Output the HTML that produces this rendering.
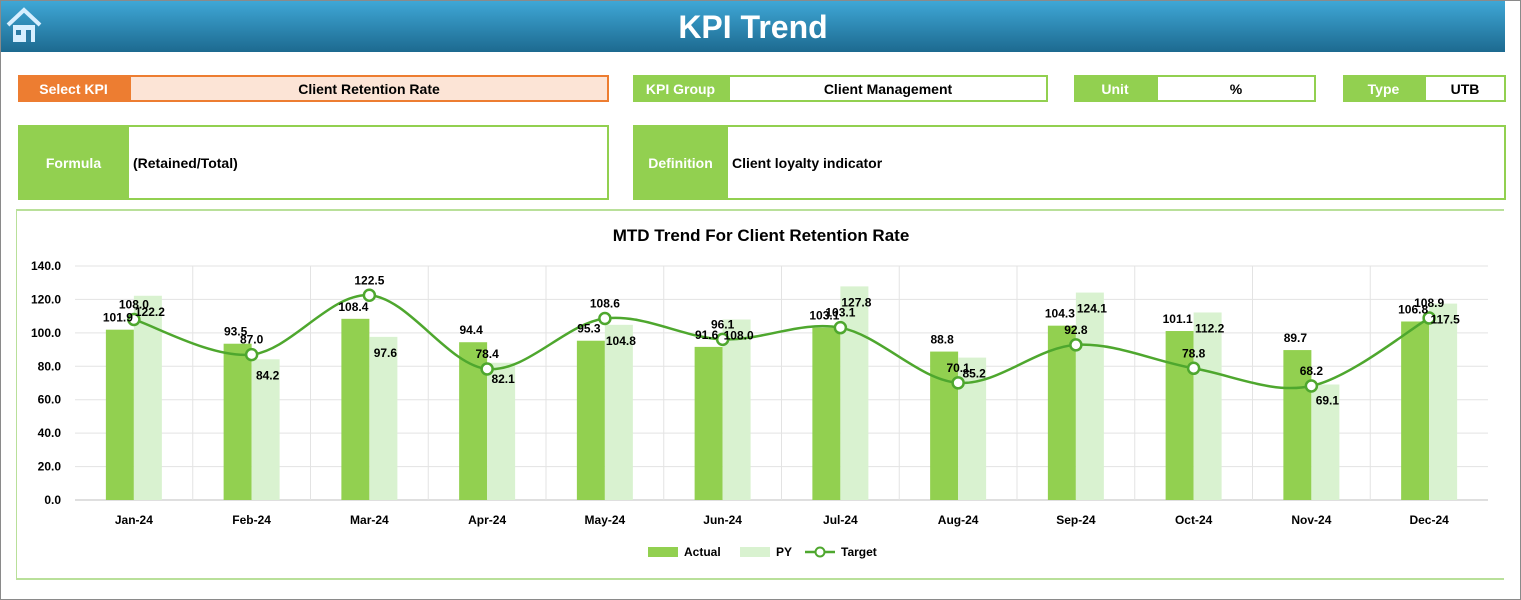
<!DOCTYPE html>
<html><head><meta charset="utf-8"><style>
body{margin:0;width:1521px;height:600px;overflow:hidden;background:#fff;font-family:"Liberation Sans",sans-serif;position:relative}
.frame{position:absolute;left:0;top:0;width:1519px;height:598px;border:1px solid #8a8a8a}
.hdr{position:absolute;left:1px;top:1px;width:1504px;height:51px;background:linear-gradient(#3fa7d6,#1d6a90);color:#fff;font-weight:bold;font-size:32px;text-align:center;line-height:52px}
.b{position:absolute;box-sizing:border-box;font-weight:bold;font-size:14px;display:flex;align-items:center}
.lab{background:#92D050;color:#fff;justify-content:center}
.val{border:2px solid #92D050;background:#fff;color:#000}
</style></head><body>
<div class="frame"></div>
<div class="hdr">KPI Trend</div>
<svg style="position:absolute;left:4px;top:5px" width="40" height="40" viewBox="0 0 40 40"><path d="M4 20 L20 5 L36 20" fill="none" stroke="#d7efff" stroke-width="4"/><rect x="9" y="20" width="22" height="17" fill="#d7efff"/><rect x="12" y="25" width="5" height="5" fill="#2a7aa3"/><rect x="22" y="25" width="5" height="12" fill="#2a7aa3"/></svg>

<div class="b lab" style="left:18px;top:75px;width:111px;height:27px;background:#ED7D31">Select KPI</div>
<div class="b val" style="left:129px;top:75px;width:480px;height:27px;background:#FCE4D6;border-color:#ED7D31;justify-content:center">Client Retention Rate</div>
<div class="b lab" style="left:633px;top:75px;width:95px;height:27px">KPI Group</div>
<div class="b val" style="left:728px;top:75px;width:320px;height:27px;justify-content:center">Client Management</div>
<div class="b lab" style="left:1074px;top:75px;width:82px;height:27px">Unit</div>
<div class="b val" style="left:1156px;top:75px;width:160px;height:27px;justify-content:center">%</div>
<div class="b lab" style="left:1343px;top:75px;width:81px;height:27px">Type</div>
<div class="b val" style="left:1424px;top:75px;width:82px;height:27px;justify-content:center">UTB</div>

<div class="b lab" style="left:18px;top:125px;width:111px;height:75px">Formula</div>
<div class="b val" style="left:127px;top:125px;width:482px;height:75px;padding-left:4px">(Retained/Total)</div>
<div class="b lab" style="left:633px;top:125px;width:95px;height:75px">Definition</div>
<div class="b val" style="left:726px;top:125px;width:780px;height:75px;padding-left:4px">Client loyalty indicator</div>

<div style="position:absolute;left:16px;top:209px;width:1487px;height:367px;border:2px solid #b9e09a;border-right:none;border-left-width:1px"></div>
<svg id="chart" width="1521" height="600" style="position:absolute;left:0;top:0" font-family="Liberation Sans, sans-serif"></svg>
<script>
const categories=["Jan-24","Feb-24","Mar-24","Apr-24","May-24","Jun-24","Jul-24","Aug-24","Sep-24","Oct-24","Nov-24","Dec-24"];
const actual=[101.9,93.5,108.4,94.4,95.3,91.6,103.1,88.8,104.3,101.1,89.7,106.8];
const py=[122.2,84.2,97.6,82.1,104.8,108.0,127.8,85.2,124.1,112.2,69.1,117.5];
const target=[108.0,87.0,122.5,78.4,108.6,96.1,103.1,70.1,92.8,78.8,68.2,108.9];
const yTicks=[0,20,40,60,80,100,120,140];
const svg=document.getElementById('chart');
const NS='http://www.w3.org/2000/svg';
const X0=75,X1=1488,Y0=500,Y1=266,YMAX=140;
const bw=(X1-X0)/categories.length;
const x=i=>X0+bw*(i+0.5);
const y=v=>Y0-(v/YMAX)*(Y0-Y1);
function mk(t,a){const e=document.createElementNS(NS,t);for(const k in a)e.setAttribute(k,a[k]);svg.appendChild(e);return e;}
function tx(s,xx,yy,o){const e=mk('text',Object.assign({x:xx,y:yy,'font-size':12,'font-weight':'bold','text-anchor':'middle',fill:'#000'},o||{}));e.textContent=s;return e;}
let t=tx('MTD Trend For Client Retention Rate',761,241,{'font-size':17});


yTicks.forEach(v=>{
 const g=mk('line',{x1:X0,x2:X1,y1:y(v),y2:y(v),stroke:v==0?'#bfbfbf':'#e3e3e3'});
 
 
 const l=tx(v.toFixed(1),61,y(v)+4,{'text-anchor':'end'});
 
 
});
for(let i=1;i<categories.length;i++){const g=mk('line',{x1:X0+bw*i,x2:X0+bw*i,y1:Y1,y2:Y0,stroke:'#e3e3e3'});}
const BW=28;
categories.forEach((c,i)=>{
 const a=mk('rect',{x:x(i)-BW,y:y(actual[i]),width:BW,height:Y0-y(actual[i]),fill:'#92D050'});
 
 
 const p=mk('rect',{x:x(i),y:y(py[i]),width:BW,height:Y0-y(py[i]),fill:'#D9F2D0'});
 
 
 const xl=tx(c,x(i),524);
 
 
});
// smooth target line (Catmull-Rom)
const pts=target.map((v,i)=>[x(i),y(v)]);
let d='M'+pts[0][0]+','+pts[0][1];
for(let i=0;i<pts.length-1;i++){const p0=pts[i-1]||pts[i],p1=pts[i],p2=pts[i+1],p3=pts[i+2]||p2;
 d+=' C'+(p1[0]+(p2[0]-p0[0])/6)+','+(p1[1]+(p2[1]-p0[1])/6)+' '+(p2[0]-(p3[0]-p1[0])/6)+','+(p2[1]-(p3[1]-p1[1])/6)+' '+p2[0]+','+p2[1];}
const ln=mk('path',{d:d,fill:'none',stroke:'#4EA72E','stroke-width':2.5});


pts.forEach((p,i)=>{
 const c=mk('circle',{cx:p[0],cy:p[1],r:5.5,fill:'#fff',stroke:'#4EA72E','stroke-width':2.5});
 
 
});
categories.forEach((c,i)=>{
 const a=tx(actual[i].toFixed(1),x(i)-16,y(actual[i])-8);
 
 
 const p=tx(py[i].toFixed(1),x(i)+16,y(py[i])+20);
 
 
 const tg=tx(target[i].toFixed(1),x(i),y(target[i])-11);
 
 
});
// legend
let r=mk('rect',{x:648,y:547,width:30,height:10,fill:'#92D050'});
let lt=tx('Actual',684,556,{'text-anchor':'start'});
r=mk('rect',{x:740,y:547,width:30,height:10,fill:'#D9F2D0'});
lt=tx('PY',776,556,{'text-anchor':'start'});
r=mk('line',{x1:805,x2:835,y1:552,y2:552,stroke:'#4EA72E','stroke-width':2.5});
r=mk('circle',{cx:820,cy:552,r:4.5,fill:'#fff',stroke:'#4EA72E','stroke-width':2});
lt=tx('Target',841,556,{'text-anchor':'start'});
</script>
</body></html>
